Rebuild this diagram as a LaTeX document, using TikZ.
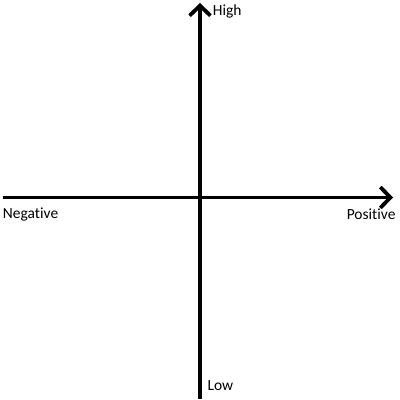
\documentclass[tikz,border=0pt]{standalone}
\usepackage{fontspec}
\setmainfont{Carlito}[Ligatures=NoCommon]
\usetikzlibrary{positioning,arrows.meta}

\begin{document}
\begin{tikzpicture}[x=0.025cm,y=0.025cm,>={Straight Barb[length=2.5mm,width=5.2mm]},
  axis/.style={line width=2.7pt},
  lbl/.style={inner sep=0pt,anchor=base west,font=\fontsize{11}{13}\selectfont}]
\useasboundingbox (0,0) rectangle (400,400);
\coordinate (bottom) at (200,1);
\coordinate (top) at (200,397);
\coordinate (left) at (3,202.5);
\coordinate (right) at (393,202.5);
\draw[axis,->] (bottom) -- (top);
\draw[axis,->] (left) -- (right);
\node[lbl] (high) at (212.7,384) {High};
\node[lbl] (low) at (207.3,9.3) {Low};
\node[lbl] (neg) at (2.7,181) {Negative};
\node[lbl] (pos) at (346.5,180.7) {Positive};
\end{tikzpicture}
\end{document}
